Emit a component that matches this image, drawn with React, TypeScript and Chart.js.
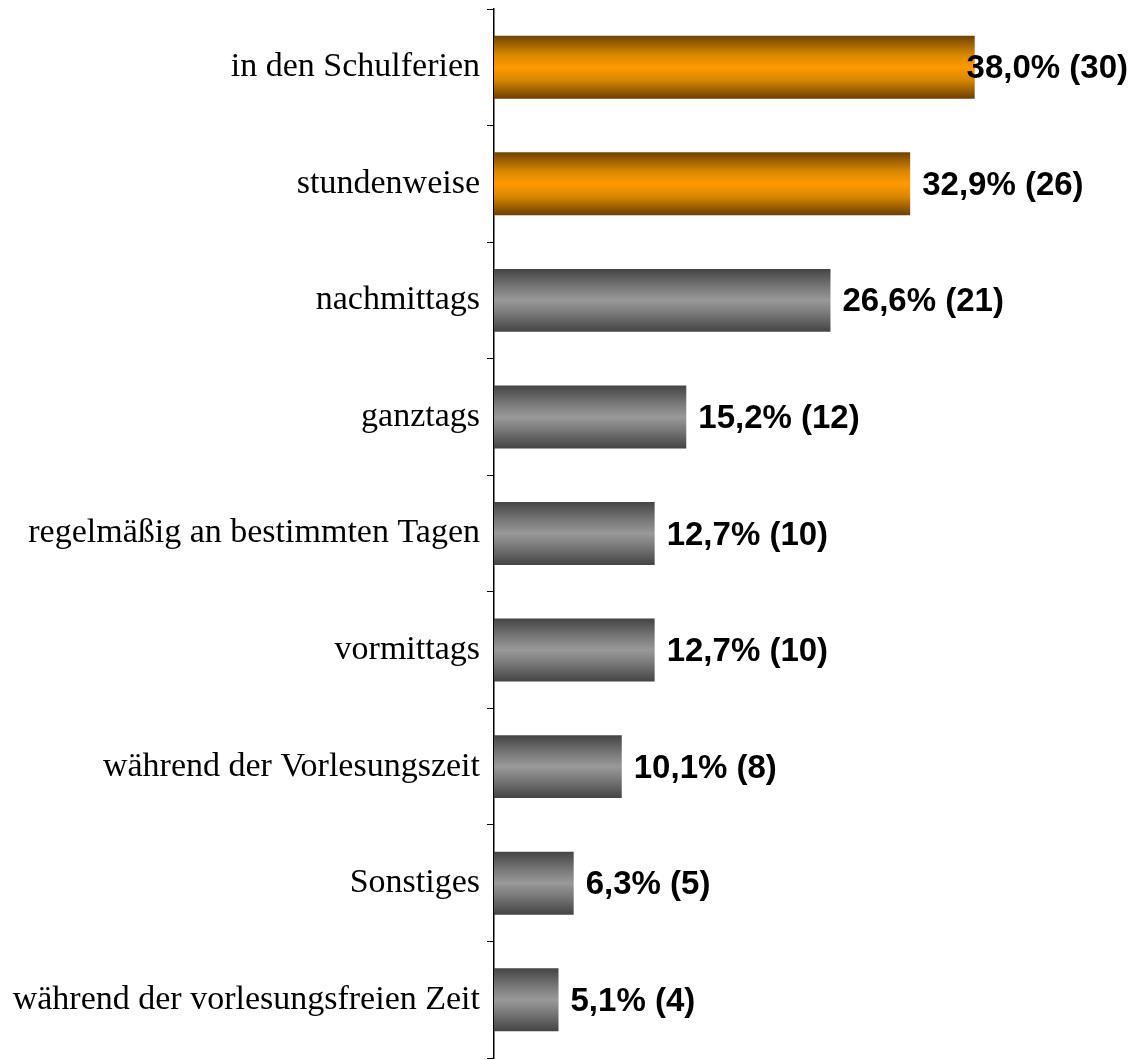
import React, { useEffect, useRef } from "react";
import { Chart, registerables } from "chart.js";

Chart.register(...registerables);

const categories = [
  "in den Schulferien",
  "stundenweise",
  "nachmittags",
  "ganztags",
  "regelmäßig an bestimmten Tagen",
  "vormittags",
  "während der Vorlesungszeit",
  "Sonstiges",
  "während der vorlesungsfreien Zeit",
];
const percents = [38.0, 32.9, 26.6, 15.2, 12.7, 12.7, 10.1, 6.3, 5.1];
const counts = [30, 26, 21, 12, 10, 10, 8, 5, 4];
const highlighted = [true, true, false, false, false, false, false, false, false];

const fmt = (p: number, c: number) => `${p.toFixed(1).replace(".", ",")}% (${c})`;

export default function App() {
  const ref = useRef<HTMLCanvasElement | null>(null);
  useEffect(() => {
    const canvas = ref.current!;
    const barPct = 0.54;

    const valueLabels = {
      id: "valueLabels",
      afterDatasetsDraw(chart: any) {
        const ctx = chart.ctx;
        const meta = chart.getDatasetMeta(0);
        ctx.save();
        ctx.font = "bold 33px 'Liberation Sans', Arial, sans-serif";
        ctx.fillStyle = "#000";
        ctx.textBaseline = "middle";
        ctx.textAlign = "left";
        meta.data.forEach((bar: any, i: number) => {
          const text = fmt(percents[i], counts[i]);
          const w = ctx.measureText(text).width;
          let x = bar.x + 12;
          if (x + w > chart.width - 4) x = chart.width - 4 - w;
          ctx.fillText(text, x, bar.y + 2);
        });
        ctx.restore();
      },
    };

    const chart = new Chart(canvas, {
      type: "bar",
      data: {
        labels: categories,
        datasets: [
          {
            data: percents,
            barPercentage: barPct,
            categoryPercentage: 1,
            borderWidth: 0,
            backgroundColor: (c: any) => {
              const chartObj = c.chart;
              const ys = chartObj.scales?.y;
              const hl = highlighted[c.dataIndex];
              const fallback = hl ? "#ff9900" : "#999999";
              if (!ys || c.dataIndex === undefined) return fallback;
              const cy = ys.getPixelForValue(c.dataIndex);
              const h = (ys.height / categories.length) * barPct / 2;
              if (!isFinite(cy) || !isFinite(h) || h <= 0) return fallback;
              const g = chartObj.ctx.createLinearGradient(0, cy - h, 0, cy + h);
              if (hl) {
                g.addColorStop(0, "#6f4300");
                g.addColorStop(0.3, "#d98700");
                g.addColorStop(0.5, "#ff9900");
                g.addColorStop(0.7, "#d98700");
                g.addColorStop(1, "#6a3f00");
              } else {
                g.addColorStop(0, "#444444");
                g.addColorStop(0.3, "#7a7a7a");
                g.addColorStop(0.5, "#999999");
                g.addColorStop(0.7, "#7a7a7a");
                g.addColorStop(1, "#444444");
              }
              return g;
            },
          },
        ],
      },
      options: {
        indexAxis: "y",
        animation: false,
        responsive: false,
        maintainAspectRatio: false,
        layout: { padding: { top: 9, bottom: 2, left: 0, right: 132 } },
        plugins: { legend: { display: false }, tooltip: { enabled: false } },
        scales: {
          x: { display: false, min: 0, max: 40 },
          y: {
            afterFit: (s: any) => {
              s.width = 494;
              s.paddingTop = 0;
              s.paddingBottom = 0;
            },
            border: { display: true, color: "#000", width: 1.5 },
            grid: {
              display: true,
              drawOnChartArea: false,
              drawTicks: true,
              tickLength: 7,
              offset: true,
              color: "#000",
              lineWidth: 1,
            },
            ticks: {
              color: "#000",
              padding: 7,
              font: { family: "'Liberation Serif', 'Times New Roman', serif", size: 34 },
            },
          },
        },
      },
      plugins: [valueLabels],
    } as any);
    return () => chart.destroy();
  }, []);
  return (
    <div style={{ position: "absolute", left: 0, top: 0, width: 1132, height: 1060, background: "#fff" }}>
      <canvas ref={ref} width={1132} height={1060} style={{ width: 1132, height: 1060 }} />
    </div>
  );
}
